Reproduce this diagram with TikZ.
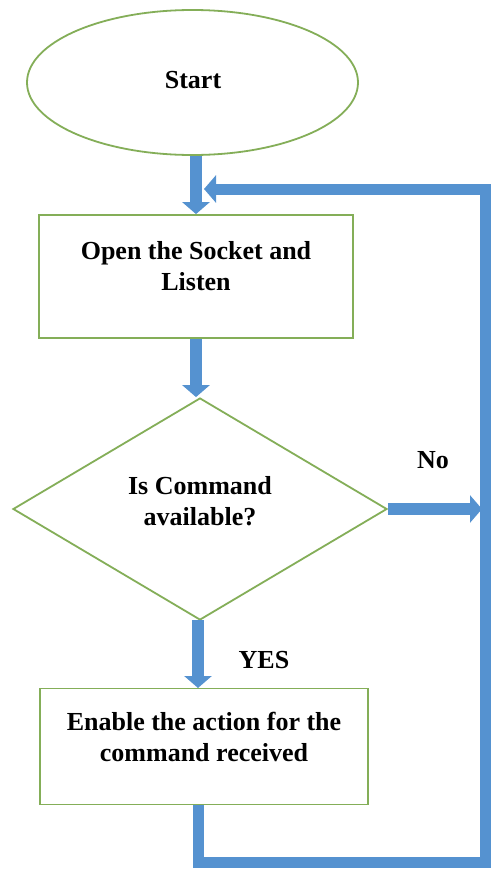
\documentclass[tikz,border=0pt]{standalone}
\usepackage{fontspec}
\setmainfont{Liberation Serif}
\usetikzlibrary{arrows.meta,shapes.geometric,calc}
\definecolor{blueF}{HTML}{5592D0}
\definecolor{greenL}{HTML}{84AE58}
\begin{document}
\begin{tikzpicture}[x=1bp,y=-1bp,
  shape outline/.style={draw=greenL, line width=1.8bp, fill=white},
  txt/.style={font=\fontsize{26bp}{31bp}\selectfont\bfseries, align=center, inner sep=0pt},
  flow/.style={draw=blueF, line width=12bp, -{Triangle[length=12bp,width=27bp]}},
  loopline/.style={draw=blueF, line width=11bp, line join=miter, -{Triangle[length=12bp,width=27bp]}}
]
\useasboundingbox (0,0) rectangle (493,874);
\fill[white] (0,0) rectangle (493,874);

% nodes
\node[shape outline, ellipse, minimum width=331bp, minimum height=145bp, inner sep=0pt] (start) at (192.5,82.5) {};
\node[txt] (tstart) at (193,80) {Start};

\node[shape outline, rectangle, minimum width=314bp, minimum height=123bp, inner sep=0pt] (b1) at (196,276.5) {};
\node[txt] (tb1) at (196,266) {Open the Socket and\\Listen};

\node[shape outline, diamond, minimum width=374bp, minimum height=222bp, inner sep=0pt] (dec) at (200,509) {};
\node[txt] (tdec) at (200,501) {Is Command\\available?};

\node[shape outline, rectangle, minimum width=328bp, minimum height=116bp, inner sep=0pt] (b2) at (204,746.5) {};
\node[txt] (tb2) at (204,737) {Enable the action for the\\command received};

\node[txt] (no) at (433,460) {No};
\node[txt] (yes) at (264,660) {YES};

\coordinate (cBR) at (485,862);
\coordinate (cTR) at (485,189);
\coordinate (tipL) at (204,189);

% connectors
\draw[flow] (b1.north |- start.south) -- (b1.north);
\draw[flow] (b1.south) -- (b1.south |- dec.north);
\draw[flow, shorten >=0bp] (dec.east) -- ($(dec.east -| cTR)+(-3,0)$);
\draw[flow] (198,620) -- (198,688);
\draw[loopline] (b2.south -| 198,0) -- (198,862) -- (cBR) -- (cTR) -- (tipL);
\end{tikzpicture}
\end{document}
